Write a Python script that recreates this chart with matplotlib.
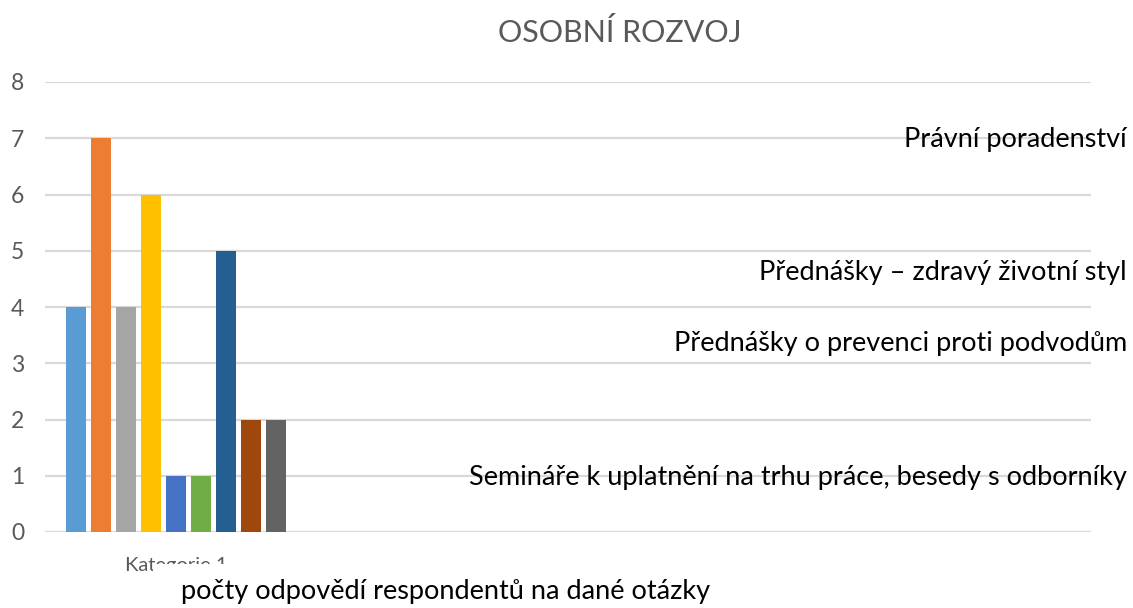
import matplotlib.pyplot as plt
from matplotlib.patches import Rectangle

plt.rcParams['font.family'] = ['Lato', 'DejaVu Sans']

values = [4, 7, 4, 6, 1, 1, 5, 2, 2]
colors = ['#5B9BD5', '#ED7D31', '#A5A5A5', '#FFC000', '#4472C4',
          '#70AD47', '#255E91', '#9E480E', '#636363']
category = 'Kategorie 1'
legend_texts = ['Právní poradenství',
                'Přednášky – zdravý životní styl',
                'Přednášky o prevenci proti podvodům',
                'Semináře k uplatnění na trhu práce, besedy s odborníky']

W, H = 1133, 608
fig = plt.figure(figsize=(W / 100, H / 100), dpi=100)
# axes placed in pixel terms: x 45..1091, y 82..532
ax = fig.add_axes([45 / W, 1 - 532 / H, (1091 - 45) / W, (532 - 82) / H])

xs = list(range(len(values)))
ax.bar(xs, values, width=0.8, color=colors, zorder=3)
ax.set_xlim(-1.24, -1.24 + 1046 / 25)
ax.set_ylim(0, 8)
ax.set_yticks(range(9))
ax.yaxis.grid(True, color='#D9D9D9', linewidth=1.6, zorder=0)
for s in ax.spines.values():
    s.set_visible(False)
ax.tick_params(axis='y', length=0, labelsize=16.5, labelcolor='#595959', pad=15)
ax.set_xticks([sum(xs) / len(xs)])
ax.set_xticklabels([category], fontsize=14.5, color='#595959')
ax.tick_params(axis='x', length=0, pad=18)

fig.text(620 / W, 1 - 33 / H, 'OSOBNÍ ROZVOJ', fontsize=22, color='#595959',
         ha='center', va='center')

# the axis title box hides the lower part of the category label
fig.patches.append(Rectangle((153 / W, 0), 600 / W, (H - 564) / H,
                             transform=fig.transFigure, facecolor='white',
                             edgecolor='none', zorder=5))
fig.text(446 / W, 1 - 592 / H, 'počty odpovědí respondentů na dané otázky',
         fontsize=19.5, color='black', ha='center', va='center', zorder=6)

# legend entries, right aligned
label_y = [140, 272, 343, 478]
for txt, py in zip(legend_texts, label_y):
    fig.text(1127 / W, 1 - py / H, txt, fontsize=19.5, color='black',
             ha='right', va='center')

fig.savefig('out.png', dpi=100)
